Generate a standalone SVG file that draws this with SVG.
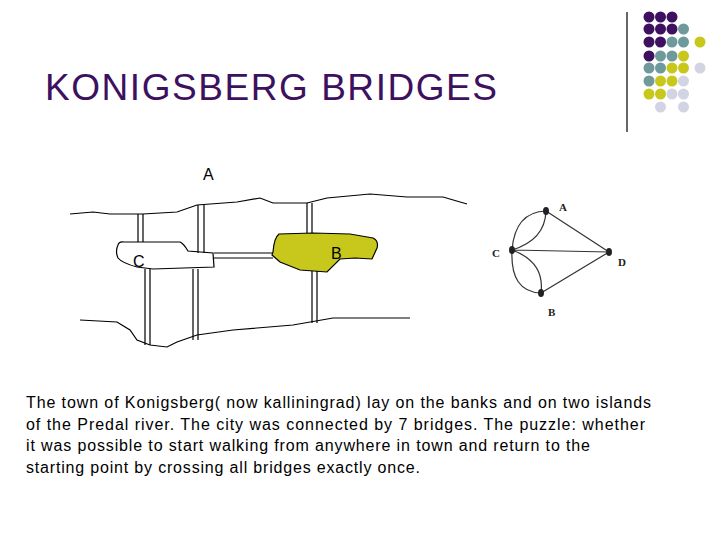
<svg xmlns="http://www.w3.org/2000/svg" width="720" height="540" viewBox="0 0 720 540">
<style>
.l{fill:none;stroke:#000;stroke-width:1.2}
.t{font-family:"Liberation Sans",Arial,sans-serif;fill:#000}
.g{font-family:"Liberation Serif","Times New Roman",serif;font-weight:bold;font-size:11px;fill:#222}
.e{fill:none;stroke:#333;stroke-width:1.2}
.P{fill:#3d1160}.T{fill:#6e9a9c}.Y{fill:#c8c81c}.L{fill:#d2d4e4}
</style>
<rect width="720" height="540" fill="#fff"/>
<g id="decor">
<line x1="627" y1="12" x2="627" y2="132" stroke="#000" stroke-width="1.2"/>
<g>
<circle class="P" cx="649" cy="17" r="5.5"/><circle class="P" cx="660.5" cy="17" r="5.5"/><circle class="P" cx="672" cy="17" r="5.5"/>
<circle class="P" cx="649" cy="29" r="5.5"/><circle class="P" cx="660.5" cy="29" r="5.5"/><circle class="P" cx="672" cy="29" r="5.5"/><circle class="T" cx="683.5" cy="29" r="5.5"/>
<circle class="P" cx="649" cy="42" r="5.5"/><circle class="P" cx="660.5" cy="42" r="5.5"/><circle class="T" cx="672" cy="42" r="5.5"/><circle class="T" cx="683.5" cy="42" r="5.5"/><circle class="Y" cx="700" cy="42" r="5.5"/>
<circle class="P" cx="649" cy="56" r="5.5"/><circle class="T" cx="660.5" cy="56" r="5.5"/><circle class="T" cx="672" cy="56" r="5.5"/><circle class="Y" cx="683.5" cy="56" r="5.5"/>
<circle class="T" cx="649" cy="68" r="5.5"/><circle class="T" cx="660.5" cy="68" r="5.5"/><circle class="Y" cx="672" cy="68" r="5.5"/><circle class="Y" cx="683.5" cy="68" r="5.5"/><circle class="L" cx="700" cy="68" r="5.5"/>
<circle class="T" cx="649" cy="81" r="5.5"/><circle class="Y" cx="660.5" cy="81" r="5.5"/><circle class="Y" cx="672" cy="81" r="5.5"/><circle class="L" cx="683.5" cy="81" r="5.5"/>
<circle class="Y" cx="649" cy="94" r="5.5"/><circle class="Y" cx="660.5" cy="94" r="5.5"/><circle class="L" cx="672" cy="94" r="5.5"/><circle class="L" cx="683.5" cy="94" r="5.5"/>
<circle class="L" cx="660.5" cy="107" r="5.5"/><circle class="L" cx="683.5" cy="107" r="5.5"/>
</g>
</g>
<text class="t" x="45" y="100" font-size="37" textLength="452" style="fill:#3d1160">KONIGSBERG BRIDGES</text>
<g id="map">
<path class="l" d="M70,214 L93,212 L110,214 L143,214 L177,212 L197,205 L237,202 L260,198 L273,203 L307,203 L327,198 L370,194 L407,197 L443,197 L467,204"/>
<path class="l" d="M80,320 L117,322 L130,330 L137,340 L150,345 L167,347 L177,342 L197,335 L233,330 L293,325 L333,318 L410,318"/>
<path id="islandC" class="l" d="M118,245 Q119,241 124,242 L180,242 Q184,244 188,251 L213,253 L214,267 L153,269 L137,267 Q122,263 118,258 Q115,251 118,245 Z" fill="#fff"/>
<path id="islandB" d="M273,252 Q274,238 279,234 L313,233 L350,234 L373,238 Q379,241 377,248 L372,259 L355,258 L340,259 L327,272 L300,270 L280,262 L272,255 Z" fill="#c8c81c" stroke="#000" stroke-width="1.2"/>
<g id="bridges">
<path class="l" d="M138,214V242M143,214V242M145,269V345M150,269V345M198,205V253M204,205V253M193,269V340M198,269V340M214,253H273M214,258H273M307,203V233M312,203V233M312,271V323M317,271V323"/>
</g>
<text class="t" x="203" y="180" font-size="16">A</text>
<text class="t" x="133" y="267" font-size="16">C</text>
<text class="t" x="331" y="259" font-size="16">B</text>
</g>
<g id="graph">
<path class="e" d="M546,211 L609,252 M512,250 L609,252 M541,293 L609,252 M512,250 Q515,212 546,211 M512,250 Q545,240 546,211 M512,250 Q545,262 541,293 M512,250 Q510,292 541,293"/>
<ellipse cx="546" cy="211" rx="3" ry="4" fill="#222"/>
<ellipse cx="512" cy="250" rx="3" ry="4" fill="#222"/>
<ellipse cx="609" cy="252" rx="3" ry="4" fill="#222"/>
<ellipse cx="541" cy="293" rx="3" ry="4" fill="#222"/>
<text class="g" x="559" y="211">A</text>
<text class="g" x="492" y="257">C</text>
<text class="g" x="618" y="266">D</text>
<text class="g" x="548" y="316">B</text>
</g>
<g class="t" font-size="16">
<text x="26" y="408" textLength="625">The town of Konigsberg( now kalliningrad) lay on the banks and on two islands</text>
<text x="26" y="430" textLength="619">of  the Predal river. The city was connected by 7 bridges. The puzzle: whether</text>
<text x="26" y="451" textLength="564">it was possible to start walking from anywhere in town and return to the</text>
<text x="26" y="473" textLength="394">starting point by crossing all bridges exactly once.</text>
</g>
</svg>
